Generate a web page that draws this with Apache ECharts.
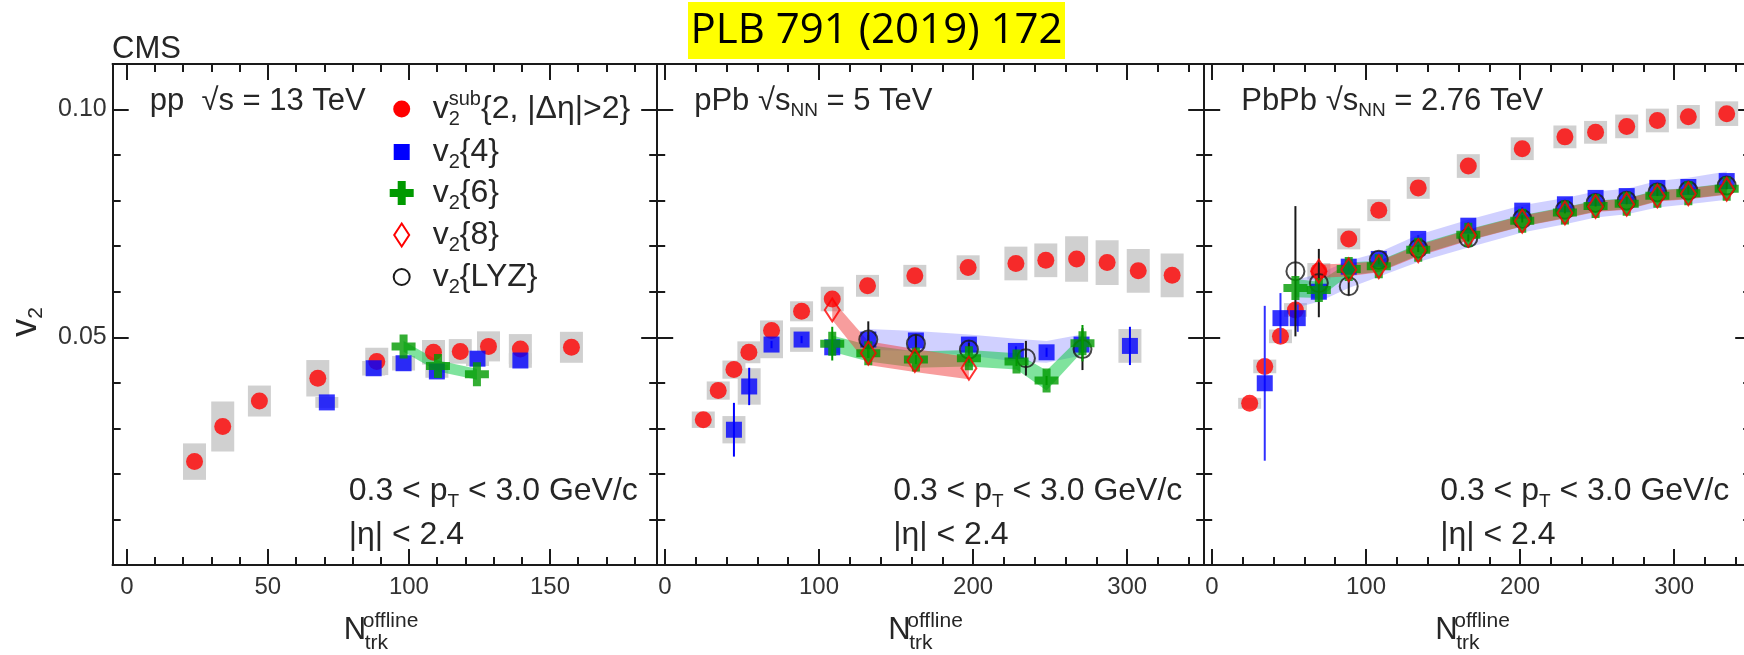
<!DOCTYPE html>
<html>
<head>
<meta charset="utf-8">
<title>v2 vs Ntrk offline - pp, pPb, PbPb</title>
<script src="https://cdn.jsdelivr.net/npm/echarts@6.0.0/dist/echarts.min.js"></script>
<style>
  html, body { margin: 0; padding: 0; background: #fff; }
  #chart { width: 1744px; height: 655px; }
</style>
</head>
<body>
<div id="chart"></div>
<script>
// ---------- values ----------
// pp 13 TeV
const ppSubX   = [24.0, 34.0, 47.0, 67.7, 88.6, 108.7, 118.2, 128.2, 139.5, 157.6];
const ppSubY   = [0.0227, 0.0304, 0.0360, 0.0410, 0.0447, 0.0467, 0.0469, 0.0480, 0.0474, 0.0478];
const ppSubSys = [0.0040, 0.0055, 0.0034, 0.0040, 0.0030, 0.0027, 0.0027, 0.0033, 0.0033, 0.0034];
const ppV4X    = [70.9, 87.5, 98.1, 109.9, 124.3, 139.5];
const ppV4Y    = [0.0357, 0.0432, 0.0443, 0.0425, 0.0453, 0.0449];
const ppV4Sys  = [0.0012, 0.0016, 0.0016, 0.0014, 0.0016, 0.0016];
const ppV6X    = [98.1, 110.3, 124.1];
const ppV6Y    = [0.0480, 0.0437, 0.0419];
const ppV6Band = [0.0012, 0.0012, 0.0012];

// pPb 5 TeV
const pPbSubX   = [24.9, 34.6, 44.8, 54.5, 69.2, 88.7, 108.6, 131.5, 162.2, 196.8, 227.8, 247.2, 267.2, 287.0, 307.2, 329.2];
const pPbSubY   = [0.0319, 0.0383, 0.0429, 0.0467, 0.0515, 0.0557, 0.0584, 0.0613, 0.0635, 0.0653, 0.0662, 0.0669, 0.0672, 0.0664, 0.0646, 0.0636];
const pPbSubSys = [0.0018, 0.0020, 0.0020, 0.0024, 0.0022, 0.0022, 0.0027, 0.0024, 0.0024, 0.0027, 0.0037, 0.0037, 0.0050, 0.0049, 0.0048, 0.0048];
const pPbV4X    = [44.8, 54.7, 69.2, 88.7, 108.6, 132.0, 162.9, 197.3, 227.8, 247.7, 270.4, 301.8];
const pPbV4Y    = [0.0297, 0.0392, 0.0484, 0.0495, 0.0478, 0.0495, 0.0493, 0.0484, 0.0470, 0.0467, 0.0484, 0.0481];
const pPbV4Err  = [0.0059, 0.0041, 0.0008, 0.0008, 0.0010, 0.0010, 0.0010, 0.0010, 0.0010, 0.0010, 0.0010, 0.0042];
const pPbV4Sys  = [0.0030, 0.0040, 0.0030, 0.0027, 0, 0, 0, 0, 0, 0, 0, 0.0037];
const pPbV4BandX  = [132.0, 162.9, 197.3, 227.8, 247.7, 270.4];
const pPbV4BandLo = [0.0472, 0.0470, 0.0460, 0.0447, 0.0444, 0.0460];
const pPbV4BandHi = [0.0518, 0.0514, 0.0506, 0.0497, 0.0492, 0.0506];
const pPbV6X    = [108.6, 132.0, 162.9, 197.3, 228.2, 247.7, 271.0];
const pPbV6Y    = [0.0486, 0.0465, 0.0451, 0.0454, 0.0447, 0.0405, 0.0487];
const pPbV6Err  = [0.0037, 0.0010, 0.0010, 0.0010, 0.0010, 0.0010, 0.0040];
const pPbV6Band = [0.0018, 0.0018, 0.0018, 0.0018, 0.0018, 0.0022, 0.0018];
const pPbV8X    = [108.6, 132.0, 162.2, 197.3];
const pPbV8Y    = [0.0560, 0.0465, 0.0449, 0.0432];
const pPbV8Band = [0.0022, 0.0026, 0.0025, 0.0024];
const pPbLyzX   = [132.0, 162.9, 197.3, 234.3, 271.0];
const pPbLyzY   = [0.0495, 0.0486, 0.0473, 0.0454, 0.0474];
const pPbLyzErr = [0.0040, 0.0020, 0.0015, 0.0038, 0.0046];

// PbPb 2.76 TeV
const PbSubX   = [24.5, 34.3, 44.5, 54.2, 69.4, 88.8, 108.3, 133.9, 166.4, 201.4, 229.1, 249.0, 269.2, 289.1, 309.2, 334.1];
const PbSubY   = [0.0355, 0.0436, 0.0502, 0.0560, 0.0645, 0.0716, 0.0779, 0.0828, 0.0876, 0.0914, 0.0940, 0.0950, 0.0963, 0.0976, 0.0984, 0.0991];
const PbSubSys = [0.0012, 0.0015, 0.0015, 0.0015, 0.0018, 0.0023, 0.0024, 0.0024, 0.0026, 0.0025, 0.0025, 0.0025, 0.0026, 0.0026, 0.0026, 0.0027];
const PbV4X    = [34.3, 44.5, 55.7, 69.4, 88.8, 108.3, 133.9, 166.4, 201.4, 229.1, 249.0, 269.2, 289.1, 309.2, 334.1];
const PbV4Y    = [0.0399, 0.0542, 0.0542, 0.0600, 0.0655, 0.0672, 0.0716, 0.0745, 0.0778, 0.0792, 0.0806, 0.0810, 0.0828, 0.0830, 0.0843];
const PbV4Err  = [0.0170, 0.0055, 0.0030, 0.0015, 0.0010, 0.0008, 0.0008, 0.0008, 0.0008, 0.0008, 0.0008, 0.0008, 0.0008, 0.0008, 0.0008];
const PbV4BandX  = [54.2, 69.4, 88.8, 108.3, 133.9, 166.4, 201.4, 229.1, 249.0, 269.2, 289.1, 309.2, 334.1];
const PbV4BandLo = [0.0565, 0.0578, 0.0608, 0.0633, 0.0665, 0.0697, 0.0730, 0.0748, 0.0763, 0.0770, 0.0785, 0.0792, 0.0802];
const PbV4BandHi = [0.0625, 0.0640, 0.0668, 0.0686, 0.0725, 0.0758, 0.0790, 0.0806, 0.0820, 0.0826, 0.0843, 0.0850, 0.0864];
const PbV6X    = [54.2, 69.4, 88.8, 108.3, 133.9, 166.4, 201.4, 229.1, 249.0, 269.2, 289.1, 309.2, 334.1];
const PbV6Y    = [0.0608, 0.0604, 0.0650, 0.0656, 0.0692, 0.0725, 0.0756, 0.0774, 0.0788, 0.0793, 0.0811, 0.0816, 0.0826];
const PbV6Band = [0.0020, 0.0018, 0.0014, 0.0012, 0.0012, 0.0012, 0.0012, 0.0012, 0.0012, 0.0012, 0.0012, 0.0012, 0.0012];
const PbV8X    = [69.4, 88.8, 108.3, 133.9, 166.4, 201.4, 229.1, 249.0, 269.2, 289.1, 309.2, 334.1];
const PbV8Y    = [0.0645, 0.0648, 0.0655, 0.0690, 0.0724, 0.0755, 0.0773, 0.0787, 0.0792, 0.0810, 0.0815, 0.0825];
const PbV8Band = [0.0015, 0.0014, 0.0012, 0.0012, 0.0012, 0.0012, 0.0012, 0.0012, 0.0012, 0.0012, 0.0012, 0.0012];
const PbLyzX   = [54.2, 69.4, 88.8, 108.3, 133.9, 166.4, 201.4, 229.1, 249.0, 269.2, 289.1, 309.2, 334.1];
const PbLyzY   = [0.0645, 0.0619, 0.0612, 0.0670, 0.0695, 0.0718, 0.0760, 0.0780, 0.0795, 0.0800, 0.0818, 0.0822, 0.0833];
const PbLyzErr = [0.0143, 0.0075, 0.0020, 0.0010, 0.0008, 0.0008, 0.0008, 0.0008, 0.0008, 0.0008, 0.0008, 0.0008, 0.0008];

// axis ticks
const yMajorTicks = [0.05, 0.10];
const yMinorTicks = [0.01, 0.02, 0.03, 0.04, 0.06, 0.07, 0.08, 0.09];
const ppMajorTicks = [0, 50, 100, 150];
const ppMinorTicks = [10, 20, 30, 40, 60, 70, 80, 90, 110, 120, 130, 140, 160, 170, 180];
const aaMajorTicks = [0, 100, 200, 300];
const aaMinorTicks = [20, 40, 60, 80, 120, 140, 160, 180, 220, 240, 260, 280, 320, 340];

const legendNames = ['v2sub', 'v2{4}', 'v2{6}', 'v2{8}', 'v2{LYZ}'];

// ---------- look ----------
const FONT = '"Liberation Sans", Arial, sans-serif';
const INK = '#1a1a1a';
const TXT = '#262626';
const BOX_W = 23;
const GRAY = '#d0d0d0';
const BLUE_BAND = 'rgba(120,120,255,0.35)';
const GREEN_BAND = 'rgba(0,200,60,0.5)';
const RED_BAND = 'rgba(240,60,60,0.5)';
const CROSS = 'path://M-1,-3L1,-3L1,-1L3,-1L3,1L1,1L1,3L-1,3L-1,1L-3,1L-3,-1L-1,-1Z';

const grids = [
  { left: 112.7, top: 64, width: 544.5, height: 501 },
  { left: 657.2, top: 64, width: 547, height: 501 },
  { left: 1204.2, top: 64, width: 547, height: 501 }
];
const xRanges = [[-5, 188], [-5, 350], [-5, 350]];

const SYM = {
  sub: { symbol: 'circle', symbolSize: 17, itemStyle: { color: '#ff0000' } },
  v4:  { symbol: 'rect', symbolSize: 16, itemStyle: { color: '#0000ff' } },
  v6:  { symbol: CROSS, symbolSize: 24, itemStyle: { color: '#009a00' } },
  v8:  { symbol: 'diamond', symbolSize: [15, 23], itemStyle: { color: 'rgba(0,0,0,0)', borderColor: '#ff0000', borderWidth: 2 } },
  lyz: { symbol: 'circle', symbolSize: 18, itemStyle: { color: 'rgba(0,0,0,0)', borderColor: INK, borderWidth: 2 } }
};

// ---------- series helpers ----------
function shift(ys, hs, k) { return ys.map((y, i) => y + k * hs[i]); }

function boxSeries(g, xs, ys, ss) {
  return {
    type: 'custom', xAxisIndex: 4 * g, yAxisIndex: 4 * g, silent: true, z: 1,
    data: xs.map((x, i) => [x, ys[i], ss[i]]).filter(d => d[2] > 0),
    encode: { x: 0, y: 1 },
    renderItem: (params, api) => {
      const x = api.value(0), y = api.value(1), s = api.value(2);
      const a = api.coord([x, y + s]), b = api.coord([x, y - s]);
      return { type: 'rect', shape: { x: a[0] - BOX_W / 2, y: a[1], width: BOX_W, height: b[1] - a[1] }, style: { fill: GRAY } };
    }
  };
}

function bandSeries(g, xs, lo, hi, color, z) {
  return {
    type: 'custom', xAxisIndex: 4 * g, yAxisIndex: 4 * g, silent: true, z: z,
    data: xs.map((x, i) => [x, lo[i], hi[i]]),
    encode: { x: 0, y: [1, 2] },
    renderItem: (params, api) => {
      if (params.dataIndex !== 0) return null;
      const up = xs.map((x, i) => api.coord([x, hi[i]]));
      const dn = xs.map((x, i) => api.coord([x, lo[i]])).reverse();
      return { type: 'polygon', shape: { points: up.concat(dn) }, style: { fill: color } };
    }
  };
}

function errSeries(g, xs, ys, es, color, z) {
  return {
    type: 'custom', xAxisIndex: 4 * g, yAxisIndex: 4 * g, silent: true, z: z,
    data: xs.map((x, i) => [x, ys[i], es[i]]),
    encode: { x: 0, y: 1 },
    renderItem: (params, api) => {
      const x = api.value(0), y = api.value(1), e = api.value(2);
      const a = api.coord([x, y + e]), b = api.coord([x, y - e]);
      return { type: 'line', shape: { x1: a[0], y1: a[1], x2: b[0], y2: b[1] }, style: { stroke: color, lineWidth: 2 } };
    }
  };
}

function dots(g, name, xs, ys, kind, z) {
  return Object.assign({
    type: 'scatter', name: name, xAxisIndex: 4 * g, yAxisIndex: 4 * g,
    data: xs.map((x, i) => [x, ys[i]]), silent: true, z: z
  }, SYM[kind]);
}

const series = [
  // pp
  boxSeries(0, ppSubX, ppSubY, ppSubSys),
  boxSeries(0, ppV4X, ppV4Y, ppV4Sys),
  bandSeries(0, ppV6X, shift(ppV6Y, ppV6Band, -1), shift(ppV6Y, ppV6Band, 1), GREEN_BAND, 2),
  dots(0, legendNames[0], ppSubX, ppSubY, 'sub', 4),
  dots(0, legendNames[1], ppV4X, ppV4Y, 'v4', 5),
  dots(0, legendNames[2], ppV6X, ppV6Y, 'v6', 7),
  // pPb
  boxSeries(1, pPbSubX, pPbSubY, pPbSubSys),
  boxSeries(1, pPbV4X, pPbV4Y, pPbV4Sys),
  bandSeries(1, pPbV4BandX, pPbV4BandLo, pPbV4BandHi, BLUE_BAND, 2),
  bandSeries(1, pPbV6X, shift(pPbV6Y, pPbV6Band, -1), shift(pPbV6Y, pPbV6Band, 1), GREEN_BAND, 2),
  bandSeries(1, pPbV8X, shift(pPbV8Y, pPbV8Band, -1), shift(pPbV8Y, pPbV8Band, 1), RED_BAND, 2),
  dots(1, legendNames[0], pPbSubX, pPbSubY, 'sub', 4),
  errSeries(1, pPbV4X, pPbV4Y, pPbV4Err, '#0000ff', 5),
  dots(1, legendNames[1], pPbV4X, pPbV4Y, 'v4', 5),
  errSeries(1, pPbLyzX, pPbLyzY, pPbLyzErr, INK, 6),
  dots(1, legendNames[4], pPbLyzX, pPbLyzY, 'lyz', 6),
  errSeries(1, pPbV6X, pPbV6Y, pPbV6Err, '#009a00', 7),
  dots(1, legendNames[2], pPbV6X, pPbV6Y, 'v6', 7),
  dots(1, legendNames[3], pPbV8X, pPbV8Y, 'v8', 8),
  // PbPb
  boxSeries(2, PbSubX, PbSubY, PbSubSys),
  bandSeries(2, PbV4BandX, PbV4BandLo, PbV4BandHi, BLUE_BAND, 2),
  bandSeries(2, PbV6X, shift(PbV6Y, PbV6Band, -1), shift(PbV6Y, PbV6Band, 1), GREEN_BAND, 2),
  bandSeries(2, PbV8X, shift(PbV8Y, PbV8Band, -1), shift(PbV8Y, PbV8Band, 1), RED_BAND, 2),
  dots(2, legendNames[0], PbSubX, PbSubY, 'sub', 4),
  errSeries(2, PbV4X, PbV4Y, PbV4Err, '#3030ff', 5),
  dots(2, legendNames[1], PbV4X, PbV4Y, 'v4', 5),
  errSeries(2, PbLyzX, PbLyzY, PbLyzErr, INK, 6),
  dots(2, legendNames[4], PbLyzX, PbLyzY, 'lyz', 6),
  dots(2, legendNames[2], PbV6X, PbV6Y, 'v6', 7),
  dots(2, legendNames[3], PbV8X, PbV8Y, 'v8', 8)
];

// ---------- axes: major + minor tick axes on every side ----------
const xAxes = [], yAxes = [];
grids.forEach((gr, g) => {
  const majors = g === 0 ? ppMajorTicks : aaMajorTicks;
  const minors = g === 0 ? ppMinorTicks : aaMinorTicks;
  [['bottom', majors, 16, true], ['bottom', minors, 8, false], ['top', majors, 16, false], ['top', minors, 8, false]].forEach(a => {
    xAxes.push({
      type: 'value', gridIndex: g, position: a[0], offset: 0,
      min: xRanges[g][0], max: xRanges[g][1],
      axisLine: { show: true, onZero: false, lineStyle: { color: INK, width: 2 } },
      axisTick: { show: true, inside: true, length: a[2], customValues: a[1], lineStyle: { color: INK, width: 2 } },
      axisLabel: a[3] ? { show: true, customValues: majors, fontSize: 24, fontFamily: FONT, color: '#333', margin: 10 } : { show: false },
      splitLine: { show: false }
    });
  });
  [['left', yMajorTicks, 16, g === 0], ['left', yMinorTicks, 8, false], ['right', yMajorTicks, 16, false], ['right', yMinorTicks, 8, false]].forEach(a => {
    yAxes.push({
      type: 'value', gridIndex: g, position: a[0], offset: 0,
      min: 0, max: 0.11,
      axisLine: { show: true, onZero: false, lineStyle: { color: INK, width: 2 } },
      axisTick: { show: true, inside: true, length: a[2], customValues: a[1], lineStyle: { color: INK, width: 2 } },
      axisLabel: a[3] ? { show: true, customValues: yMajorTicks, formatter: v => v.toFixed(2), fontSize: 25, fontFamily: FONT, color: '#333', margin: 6 } : { show: false },
      splitLine: { show: false }
    });
  });
});

// ---------- text ----------
function txt(x, y, text, rich, extra) {
  return {
    type: 'text', x: x, y: y, silent: true, z: 50,
    style: Object.assign({
      legacy: false, text: text, rich: rich,
      font: '30px ' + FONT, fill: TXT, lineHeight: 38, align: 'left', verticalAlign: 'middle'
    }, extra || {})
  };
}
function richSet(main, small, lh) {
  return {
    t:  { fontSize: main, fontFamily: FONT, fill: TXT, lineHeight: lh, verticalAlign: 'middle' },
    sb: { fontSize: small, fontFamily: FONT, fill: TXT, lineHeight: small, verticalAlign: 'bottom' },
    sp: { fontSize: small, fontFamily: FONT, fill: TXT, lineHeight: small, verticalAlign: 'top' }
  };
}
const RICH_SYS = richSet(31, 19, 39);
const RICH_KIN = richSet(32, 19, 40);
const RICH_LEG = richSet(32, 20, 40);

const systemText = [
  '{t|pp  √s = 13 TeV}',
  '{t|pPb √s}{sb|NN}{t| = 5 TeV}',
  '{t|PbPb √s}{sb|NN}{t| = 2.76 TeV}'
];

const graphic = [
  { type: 'rect', shape: { x: 688, y: 2, width: 377, height: 57 }, style: { fill: '#ffff00' }, silent: true },
  { type: 'text', x: 876.5, y: 31, silent: true,
    style: { legacy: false, text: 'PLB 791 (2019) 172', font: '42px "Open Sans"', fill: '#000', align: 'center', verticalAlign: 'middle' } },
  txt(112, 49, 'CMS', null, { font: '31px ' + FONT }),
  { type: 'text', x: 26, y: 322, rotation: Math.PI / 2, silent: true,
    style: { legacy: false, text: '{v|v}{s|2}', align: 'center', verticalAlign: 'middle', fill: TXT,
      rich: { v: { fontSize: 36, fontFamily: FONT, fill: TXT, lineHeight: 42 },
              s: { fontSize: 21, fontFamily: FONT, fill: TXT, lineHeight: 21, verticalAlign: 'bottom' } } } }
];

grids.forEach((gr, g) => {
  const L = gr.left;
  graphic.push(txt(L + 37, 101, systemText[g], RICH_SYS, { font: '31px ' + FONT, lineHeight: 39 }));
  graphic.push(txt(L + 236, 491, '{t|0.3 < p}{sb|T}{t| < 3.0 GeV/c}', RICH_KIN, { font: '32px ' + FONT, lineHeight: 40 }));
  graphic.push(txt(L + 236, 535, '{t||η| < 2.4}', RICH_KIN, { font: '32px ' + FONT, lineHeight: 40 }));
  graphic.push(txt(L + 231, 630, 'N', null, { font: '31px ' + FONT }));
  graphic.push(txt(L + 250, 621, 'offline', null, { font: '21px ' + FONT }));
  graphic.push(txt(L + 252, 643, 'trk', null, { font: '21px ' + FONT }));
});

// legend (drawn by hand so the sub/superscripts look right)
const legX = grids[0].left + 289, legTextX = grids[0].left + 320;
const legRows = [109, 152, 193, 235, 277];
const legLabels = [
  '{t|v}{sp|sub}{t|{2, |Δη|>2}}',
  '{t|v}{sb|2}{t|{4}}',
  '{t|v}{sb|2}{t|{6}}',
  '{t|v}{sb|2}{t|{8}}',
  '{t|v}{sb|2}{t|{LYZ}}'
];
function crossPts(cx, cy, h, w) {
  return [[-w, -h], [w, -h], [w, -w], [h, -w], [h, w], [w, w], [w, h], [-w, h], [-w, w], [-h, w], [-h, -w], [-w, -w]].map(p => [cx + p[0], cy + p[1]]);
}
graphic.push({ type: 'circle', shape: { cx: legX, cy: legRows[0], r: 8.5 }, style: { fill: '#ff0000' }, silent: true });
graphic.push({ type: 'rect', shape: { x: legX - 8, y: legRows[1] - 8, width: 16, height: 16 }, style: { fill: '#0000ff' }, silent: true });
graphic.push({ type: 'polygon', shape: { points: crossPts(legX, legRows[2], 12, 4) }, style: { fill: '#009a00' }, silent: true });
graphic.push({ type: 'polygon', shape: { points: [[legX, legRows[3] - 11.5], [legX + 7.5, legRows[3]], [legX, legRows[3] + 11.5], [legX - 7.5, legRows[3]]] }, style: { fill: 'none', stroke: '#ff0000', lineWidth: 2 }, silent: true });
graphic.push({ type: 'circle', shape: { cx: legX, cy: legRows[4], r: 8 }, style: { fill: 'none', stroke: INK, lineWidth: 2 }, silent: true });
legLabels.forEach((s, i) => graphic.push(txt(legTextX, legRows[i], s, RICH_LEG, { font: '32px ' + FONT, lineHeight: 40 })));
graphic.push(txt(legTextX + 16, legRows[0] + 10, '2', null, { font: '20px ' + FONT }));

const chart = echarts.init(document.getElementById('chart'));
chart.setOption({
  animation: false,
  backgroundColor: '#ffffff',
  textStyle: { fontFamily: FONT },
  grid: grids.map(g => Object.assign({ outerBoundsMode: 'none', containLabel: false }, g)),
  xAxis: xAxes,
  yAxis: yAxes,
  series: series,
  graphic: graphic
});
window.addEventListener('resize', () => chart.resize());
</script>
</body>
</html>
